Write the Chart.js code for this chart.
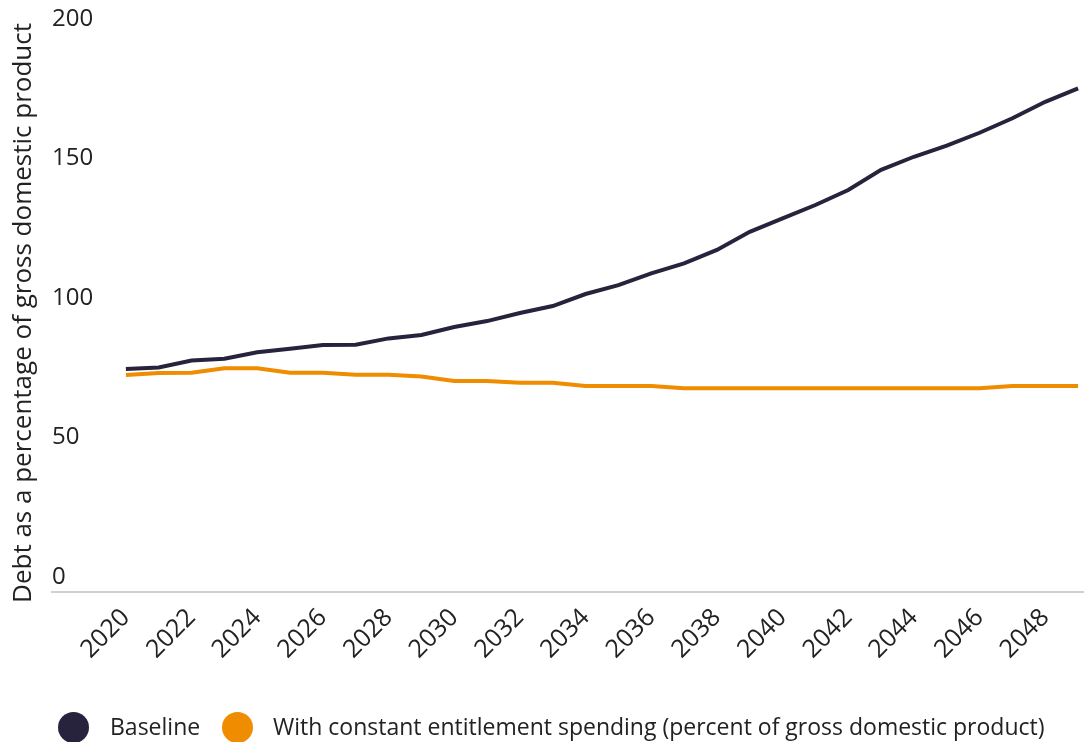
<!DOCTYPE html>
<html>
<head>
<meta charset="utf-8">
<title>Debt as a percentage of GDP</title>
<script src="https://cdn.jsdelivr.net/npm/chart.js@4.4.0/dist/chart.umd.min.js"></script>
<style>
    html, body { margin: 0; padding: 0; background: #fff; overflow: hidden; }
    #wrap { position: relative; width: 1084px; height: 742px; }
    #chartBox { position: absolute; left: 0; top: 0; width: 1084px; height: 742px; }
    .legend-dot { position: absolute; top: 712px; width: 31px; height: 31px; border-radius: 50%; }
    .legend-text { position: absolute; top: 711px; height: 31px; line-height: 31px;
        font-family: "Open Sans", sans-serif; font-size: 23px; color: #222; white-space: nowrap; }
</style>
</head>
<body>
<div id="wrap">
    <div id="chartBox"><canvas id="debtChart"></canvas></div>
    <div id="legend"></div>
</div>
<script>
// Data
const years = [2020, 2021, 2022, 2023, 2024, 2025, 2026, 2027, 2028, 2029,
               2030, 2031, 2032, 2033, 2034, 2035, 2036, 2037, 2038, 2039,
               2040, 2041, 2042, 2043, 2044, 2045, 2046, 2047, 2048, 2049];

const baseline = [79.9, 80.5, 83.0, 83.6, 85.9, 87.2, 88.5, 88.6, 90.9, 92.1,
                  95.0, 97.1, 100.0, 102.5, 106.8, 110.0, 114.2, 117.8, 122.6, 129.1,
                  133.9, 138.7, 144.1, 151.3, 156.0, 160.0, 164.6, 169.8, 175.7, 180.5];

const constantEntitlement = [77.8, 78.5, 78.6, 80.2, 80.2, 78.6, 78.6, 77.9, 77.9, 77.2,
                             75.6, 75.6, 75.0, 75.0, 73.8, 73.8, 73.8, 73.0, 73.0, 73.0,
                             73.0, 73.0, 73.0, 73.0, 73.0, 73.0, 73.0, 73.8, 73.8, 73.8];

const yearTicks = [2020, 2022, 2024, 2026, 2028, 2030, 2032, 2034, 2036, 2038, 2040, 2042, 2044, 2046, 2048];
const valueTicks = [0, 50, 100, 150, 200];

const seriesNames = ['Baseline', 'With constant entitlement spending (percent of gross domestic product)'];
const seriesColors = ['#27233d', '#ef8c00'];

const fontFamily = '"Open Sans", sans-serif';

function toPoints(values) {
    return years.map((yr, i) => ({ x: yr, y: values[i] }));
}

// Legend drawn as plain html under the canvas
function buildLegend() {
    const legend = document.getElementById('legend');
    const dotLeft = [58, 222];
    const textLeft = [110, 273];
    seriesNames.forEach((name, i) => {
        const dot = document.createElement('div');
        dot.className = 'legend-dot';
        dot.style.left = dotLeft[i] + 'px';
        dot.style.background = seriesColors[i];
        legend.appendChild(dot);

        const label = document.createElement('div');
        label.className = 'legend-text';
        label.style.left = textLeft[i] + 'px';
        label.textContent = name;
        legend.appendChild(label);
    });
}

function initChart() {
    const ctx = document.getElementById('debtChart').getContext('2d');
    new Chart(ctx, {
        type: 'line',
        data: {
            datasets: [{
                label: seriesNames[0],
                data: toPoints(baseline),
                borderColor: seriesColors[0],
                backgroundColor: seriesColors[0],
                borderWidth: 4,
                pointRadius: 0,
                tension: 0,
                clip: false
            }, {
                label: seriesNames[1],
                data: toPoints(constantEntitlement),
                borderColor: seriesColors[1],
                backgroundColor: seriesColors[1],
                borderWidth: 4,
                pointRadius: 0,
                tension: 0,
                clip: false
            }]
        },
        options: {
            responsive: true,
            maintainAspectRatio: false,
            animation: false,
            layout: { padding: { top: 34, left: 0, right: 0, bottom: 0 } },
            plugins: {
                legend: { display: false },
                tooltip: { enabled: false }
            },
            scales: {
                x: {
                    type: 'linear',
                    min: 2017.75,
                    max: 2049.18,
                    afterBuildTicks: (scale) => {
                        scale.ticks = yearTicks.map(v => ({ value: v }));
                    },
                    afterFit: (scale) => { scale.height = 150; },
                    grid: { display: false, drawTicks: false },
                    border: { display: true, color: '#d0d0d0', width: 2 },
                    ticks: {
                        minRotation: 45,
                        maxRotation: 45,
                        padding: 11,
                        color: '#222',
                        font: { family: fontFamily, size: 25 },
                        callback: (v) => String(v)
                    }
                },
                y: {
                    min: 0,
                    max: 200,
                    afterBuildTicks: (scale) => {
                        scale.ticks = valueTicks.map(v => ({ value: v }));
                    },
                    afterFit: (scale) => { scale.width = 52; },
                    grid: { display: false, drawTicks: false },
                    border: { display: false },
                    ticks: {
                        mirror: true,
                        padding: 0,
                        labelOffset: -15,
                        color: '#222',
                        font: { family: fontFamily, size: 24 }
                    },
                    title: {
                        display: true,
                        text: 'Debt as a percentage of gross domestic product',
                        color: '#222',
                        font: { family: fontFamily, size: 26, lineHeight: 1 },
                        padding: { top: 11, bottom: 15 }
                    }
                }
            }
        }
    });
}

window.onload = function() {
    buildLegend();
    initChart();
};
</script>
</body>
</html>
